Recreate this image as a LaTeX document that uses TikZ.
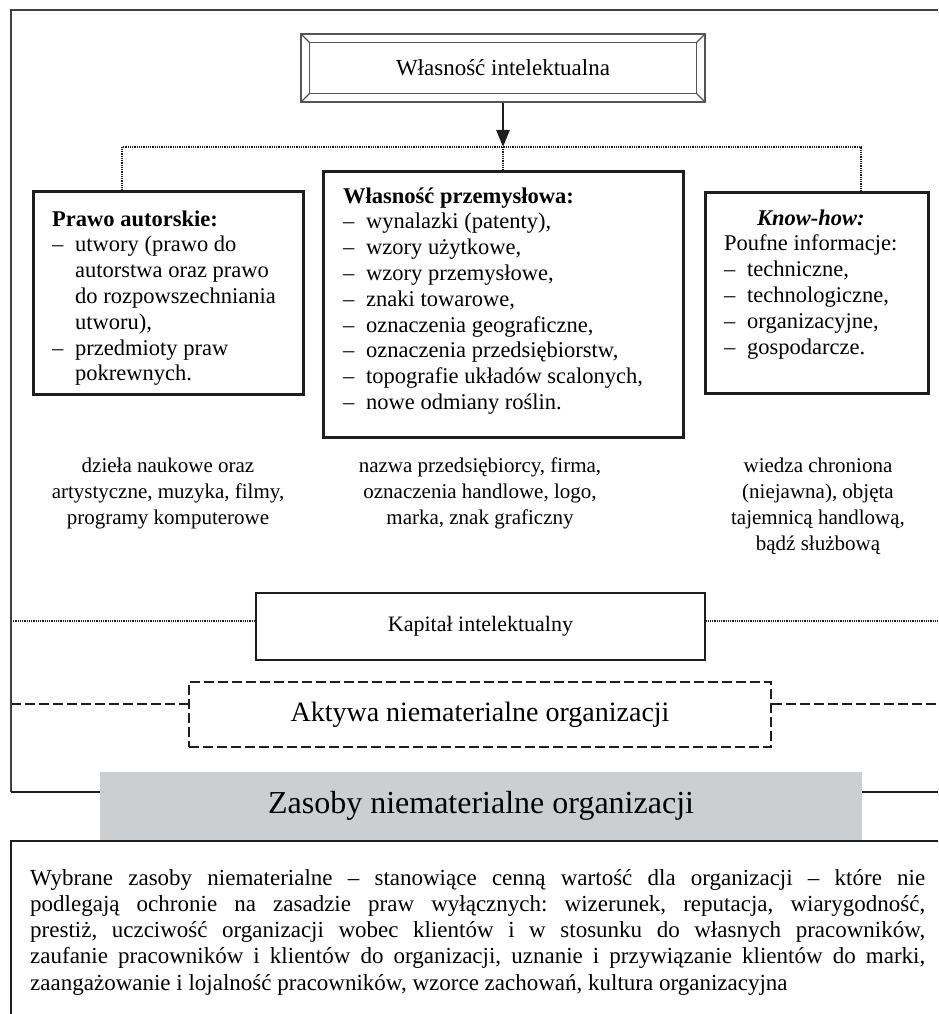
\documentclass[tikz,border=0pt]{standalone}
\usepackage{fontspec}
\setmainfont{Liberation Serif}
\usetikzlibrary{arrows.meta}
\definecolor{ink}{RGB}{30,30,30}
\definecolor{zgray}{RGB}{205,206,208}
\definecolor{bevelc}{RGB}{85,85,85}
\newcommand\dsh{\makebox[23pt][l]{–}}
\newcommand\ind{\hspace*{23pt}}
\frenchspacing
\tikzset{
  frameline/.style={draw=ink, line width=2pt},
  thinframe/.style={draw=ink!85, line width=1.4pt},
  mainbox/.style={draw=ink, line width=3pt, inner sep=0pt, rectangle},
  bevel/.style={draw=bevelc, line width=1.2pt},
  dotline/.style={draw=ink, line width=1.6pt, dash pattern=on 1pt off 0.8pt},
  dashline/.style={draw=ink, line width=2.5pt, dash pattern=on 10pt off 4pt},
  arr/.style={draw=ink, line width=2.5pt, -{Triangle[length=17pt,width=13pt]}},
  boxtext/.style={inner sep=0pt, anchor=base west, font=\fontsize{22.5}{25.8}\selectfont},
  undertext/.style={inner sep=0pt, anchor=base, font=\fontsize{21}{26}\selectfont},
}
\begin{document}
\begin{tikzpicture}[x=1pt,y=-1pt]
\useasboundingbox (0,0) rectangle (938,1014);
\coordinate (fl) at (11,792);
\coordinate (tr) at (938,10);
% Title box
\node[bevel, rectangle, minimum width=404pt, minimum height=68pt, inner sep=0pt,
      font=\fontsize{23}{27}\selectfont] (wi) at (503,68) {Własność intelektualna};
\draw[bevel] ([shift={(9,9)}]wi.north west) rectangle ([shift={(-9,-9)}]wi.south east);
\draw[bevel] (wi.north west) -- ++(9,9);
\draw[bevel] (wi.north east) -- ++(-9,9);
\draw[bevel] (wi.south west) -- ++(9,-9);
\draw[bevel] (wi.south east) -- ++(-9,-9);
\coordinate (hub) at (503,147);
% three boxes
\node[mainbox, minimum width=270pt, minimum height=203pt] (pa) at (168,292.5) {};
\node[mainbox, minimum width=360pt, minimum height=266pt] (wp) at (503,304) {};
\node[mainbox, minimum width=223pt, minimum height=201pt] (kh) at (816.5,292.5) {};
% connectors
\draw[arr] (wi.south) -- (hub);
\draw[dotline] ([xshift=-46pt]pa.north) |- (hub) -| ([xshift=44.5pt]kh.north);
\draw[dotline] (hub) -- (wp.north);
% box texts
\node[boxtext] (pat) at (52,226) {\parbox[t]{250pt}{\raggedright
\textbf{Prawo autorskie:}\\
\dsh utwory (prawo do\\
\ind autorstwa oraz prawo\\
\ind do rozpowszechniania\\
\ind utworu),\\
\dsh przedmioty praw\\
\ind pokrewnych.}};
\node[boxtext] (wpt) at (343,203) {\parbox[t]{340pt}{\raggedright
\textbf{Własność przemysłowa:}\\
\dsh wynalazki (patenty),\\
\dsh wzory użytkowe,\\
\dsh wzory przemysłowe,\\
\dsh znaki towarowe,\\
\dsh oznaczenia geograficzne,\\
\dsh oznaczenia przedsiębiorstw,\\
\dsh topografie układów scalonych,\\
\dsh nowe odmiany roślin.}};
\node[boxtext] (kht) at (724,225) {\parbox[t]{200pt}{\raggedright
\hspace*{33pt}\textbf{\textit{Know-how:}}\\
Poufne informacje:\\
\dsh techniczne,\\
\dsh technologiczne,\\
\dsh organizacyjne,\\
\dsh gospodarcze.}};
% under texts
\node[undertext] (ul) at (168,472) {\parbox[t]{290pt}{\centering
dzieła naukowe oraz\\ artystyczne, muzyka, filmy,\\ programy komputerowe}};
\node[undertext] (uc) at (480,472) {\parbox[t]{320pt}{\centering
nazwa przedsiębiorcy, firma,\\ oznaczenia handlowe, logo,\\ marka, znak graficzny}};
\node[undertext] (ur) at (818,472) {\parbox[t]{230pt}{\centering
wiedza chroniona\\ (niejawna), objęta\\ tajemnicą handlową,\\ bądź służbową}};
% Kapital
\node[mainbox, line width=2.6pt, minimum width=449pt, minimum height=67pt,
      font=\fontsize{22}{26}\selectfont] (ki) at (480.5,626.5) {Kapitał intelektualny};
\coordinate (kl) at (11,621);
\coordinate (kr) at (938,621);
\draw[dotline] (kl) -- (kl -| ki.west);
\draw[dotline] (kr -| ki.east) -- (kr);
% Aktywa
\node[dashline, rectangle, inner sep=0pt, minimum width=582pt, minimum height=65pt,
      font=\fontsize{28}{32}\selectfont] (an) at (480,714.5) {Aktywa niematerialne organizacji};
\coordinate (al) at (11,704);
\coordinate (ar) at (938,704);
\draw[dashline] (al) -- (al -| an.west);
\draw[dashline] (ar -| an.east) -- (ar);
% Zasoby
\node[fill=zgray, rectangle, inner sep=0pt, minimum width=762pt, minimum height=68pt,
      font=\fontsize{32}{38}\selectfont] (zn) at (481,806) {Zasoby niematerialne organizacji};
\draw[thinframe] (tr) -- (11,10) -- (fl);
\draw[frameline] (fl) -- (fl -| zn.west);
\coordinate (zr) at (938,792);
\draw[frameline] (zr -| zn.east) -- (zr);
% bottom box
\coordinate (bl) at (11,841);
\draw[frameline, line width=1.8pt] (938,841) -- (bl) -- (11,1014);
\node[inner sep=0pt, anchor=base west] (par) at (30,885) {\parbox[t]{895pt}{\fontsize{23}{26.3}\selectfont
Wybrane zasoby niematerialne – stanowiące cenną wartość dla organizacji – które nie\linebreak
podlegają ochronie na zasadzie praw wyłącznych: wizerunek, reputacja, wiarygodność,\linebreak
prestiż, uczciwość organizacji wobec klientów i w stosunku do własnych pracowników,\linebreak
zaufanie pracowników i klientów do organizacji, uznanie i przywiązanie klientów do marki,\linebreak
zaangażowanie i lojalność pracowników, wzorce zachowań, kultura organizacyjna}};
\end{tikzpicture}
\end{document}
